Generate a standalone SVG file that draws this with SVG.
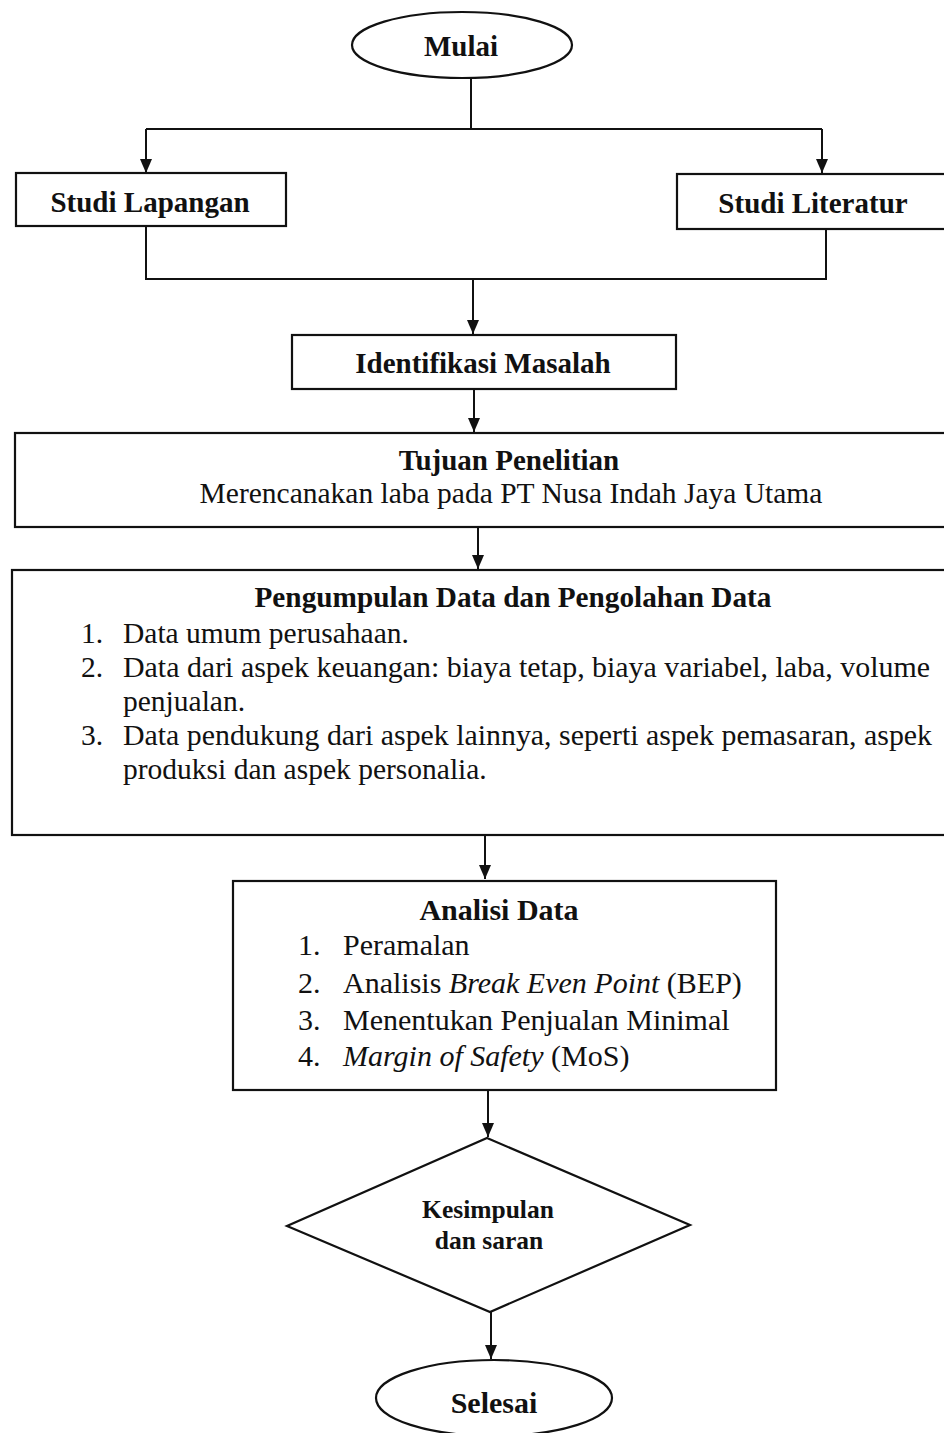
<svg xmlns="http://www.w3.org/2000/svg" width="944" height="1433" viewBox="0 0 944 1433">
<style>
.shape{fill:#fff;stroke:#111;stroke-width:2.2}
.conn{fill:none;stroke:#111;stroke-width:2}
.b{font-family:"Liberation Serif","Times New Roman",serif;font-weight:bold;fill:#111}
.r{font-family:"Liberation Serif","Times New Roman",serif;fill:#111}
.i{font-style:italic}
</style>
<defs>
<marker id="ah2" viewBox="0 0 14 12" refX="14" refY="6" markerWidth="14" markerHeight="12" markerUnits="userSpaceOnUse" orient="auto">
<path d="M0,0 L14,6 L0,12 z" fill="#111"/>
</marker>
</defs>
<rect width="944" height="1433" fill="#fff"/>
<g id="connectors">
<path class="conn" d="M471,79 V129"/>
<path class="conn" d="M146,129 H822"/>
<path class="conn" d="M146,129 V173" marker-end="url(#ah2)"/>
<path class="conn" d="M822,129 V173" marker-end="url(#ah2)"/>
<path class="conn" d="M146,226 V279 H826 V229"/>
<path class="conn" d="M473,279 V334" marker-end="url(#ah2)"/>
<path class="conn" d="M474,389 V432" marker-end="url(#ah2)"/>
<path class="conn" d="M478,527 V569" marker-end="url(#ah2)"/>
<path class="conn" d="M485,835 V879" marker-end="url(#ah2)"/>
<path class="conn" d="M488,1090 V1137" marker-end="url(#ah2)"/>
<path class="conn" d="M491,1312 V1359" marker-end="url(#ah2)"/>
</g>
<g id="mulai">
<ellipse class="shape" cx="462" cy="45" rx="110" ry="33"/>
<text class="b" x="461" y="56" font-size="29" text-anchor="middle">Mulai</text>
</g>
<g id="studi-lapangan">
<rect class="shape" x="16" y="173" width="270" height="53"/>
<text class="b" x="150" y="212" font-size="29" text-anchor="middle">Studi Lapangan</text>
</g>
<g id="studi-literatur">
<rect class="shape" x="677" y="174" width="285" height="55"/>
<text class="b" x="813" y="213" font-size="29" text-anchor="middle">Studi Literatur</text>
</g>
<g id="identifikasi">
<rect class="shape" x="292" y="335" width="384" height="54"/>
<text class="b" x="483" y="373" font-size="29" text-anchor="middle">Identifikasi Masalah</text>
</g>
<g id="tujuan">
<rect class="shape" x="15" y="433" width="945" height="94"/>
<text class="b" x="509" y="470" font-size="29" text-anchor="middle">Tujuan Penelitian</text>
<text class="r" x="511" y="503" font-size="29.5" text-anchor="middle">Merencanakan laba pada PT Nusa Indah Jaya Utama</text>
</g>
<g id="pengumpulan">
<rect class="shape" x="12" y="570" width="950" height="265"/>
<text class="b" x="513" y="607" font-size="29" text-anchor="middle" textLength="517" lengthAdjust="spacingAndGlyphs">Pengumpulan Data dan Pengolahan Data</text>
<text class="r" x="81" y="643" font-size="29.5">1.</text>
<text class="r" x="123" y="643" font-size="29.5">Data umum perusahaan.</text>
<text class="r" x="81" y="677" font-size="29.5">2.</text>
<text class="r" x="123" y="677" font-size="29.5" textLength="807" lengthAdjust="spacingAndGlyphs">Data dari aspek keuangan: biaya tetap, biaya variabel, laba, volume</text>
<text class="r" x="123" y="711" font-size="29.5">penjualan.</text>
<text class="r" x="81" y="745" font-size="29.5">3.</text>
<text class="r" x="123" y="745" font-size="29.5" textLength="809" lengthAdjust="spacingAndGlyphs">Data pendukung dari aspek lainnya, seperti aspek pemasaran, aspek</text>
<text class="r" x="123" y="779" font-size="29.5">produksi dan aspek personalia.</text>
</g>
<g id="analisi">
<rect class="shape" x="233" y="881" width="543" height="209"/>
<text class="b" x="499" y="920" font-size="30" text-anchor="middle">Analisi Data</text>
<text class="r" x="298" y="955" font-size="30">1.</text>
<text class="r" x="343" y="955" font-size="30">Peramalan</text>
<text class="r" x="298" y="993" font-size="30">2.</text>
<text class="r" x="343" y="993" font-size="30">Analisis <tspan class="i">Break Even Point</tspan> (BEP)</text>
<text class="r" x="298" y="1030" font-size="30">3.</text>
<text class="r" x="343" y="1030" font-size="30">Menentukan Penjualan Minimal</text>
<text class="r" x="298" y="1066" font-size="30">4.</text>
<text class="r" x="343" y="1066" font-size="30"><tspan class="i">Margin of Safety</tspan> (MoS)</text>
</g>
<g id="kesimpulan">
<polygon class="shape" points="487,1138 690,1225 490,1312 287,1226"/>
<text class="b" x="488" y="1218" font-size="25.5" text-anchor="middle">Kesimpulan</text>
<text class="b" x="489" y="1249" font-size="25.5" text-anchor="middle">dan saran</text>
</g>
<g id="selesai">
<ellipse class="shape" cx="494" cy="1398" rx="118" ry="38"/>
<text class="b" x="494" y="1413" font-size="30" text-anchor="middle">Selesai</text>
</g>
</svg>
